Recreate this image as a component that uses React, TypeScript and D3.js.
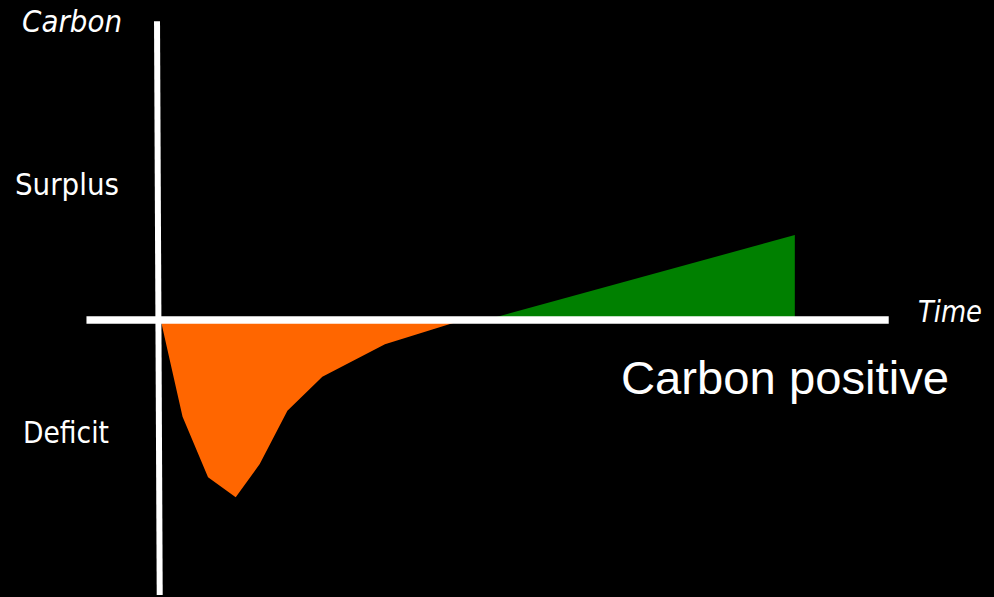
import React from 'react';
import * as d3 from 'd3';

// deficit phase (time units, carbon balance)
const deficitTime = [0.1, 3.1, 6.6, 10.4, 13.7, 17.5, 22.3, 30.9, 41.6];
const deficitValue = [0, -53.7, -87.4, -98.5, -80, -50.4, -31.5, -13.5, 0];

// surplus phase
const surplusTime = [44.7, 87.2, 87.2];
const surplusValue = [0, 47.2, 0];

const labels = {
  yTitle: 'Carbon',
  xTitle: 'Time',
  surplus: 'Surplus',
  deficit: 'Deficit',
  note: 'Carbon positive',
};

const W = 994;
const H = 597;

const App: React.FC = () => {
  const x = d3.scaleLinear().domain([0, 100]).range([160, 888]);
  const y = d3.scaleLinear().domain([-100, 100]).range([500, 140]);

  const area = d3
    .area<[number, number]>()
    .x(d => x(d[0]))
    .y0(y(0))
    .y1(d => y(d[1]));

  const deficit = deficitTime.map((t, i) => [t, deficitValue[i]] as [number, number]);
  const surplus = surplusTime.map((t, i) => [t, surplusValue[i]] as [number, number]);

  const sans = 'Verdana, "DejaVu Sans", sans-serif';

  return (
    <div style={{ position: 'fixed', left: 0, top: 0, width: W, height: H, background: '#000' }}>
      <svg width={W} height={H} style={{ display: 'block' }}>
        <rect width={W} height={H} fill="#000" />
        <path d={area(deficit) || ''} fill="#FF6600" />
        <path d={area(surplus) || ''} fill="#008000" />

        {/* x axis */}
        <line x1={x(-10.1)} x2={x(100.1)} y1={y(0)} y2={y(0)} stroke="#fff" strokeWidth={7.5} />
        {/* y axis (slightly tilted like the original) */}
        <line x1={x(-0.41)} x2={x(-0.04)} y1={y(166)} y2={y(-152.8)} stroke="#fff" strokeWidth={6} />

        <g fill="#fff" fontFamily={sans} fontSize={30}>
          <text x={22} y={32} fontStyle="italic" textLength={100} lengthAdjust="spacingAndGlyphs">
            {labels.yTitle}
          </text>
          <text x={15} y={195} textLength={104} lengthAdjust="spacingAndGlyphs">
            {labels.surplus}
          </text>
          <text x={23} y={443} textLength={86} lengthAdjust="spacingAndGlyphs">
            {labels.deficit}
          </text>
          <text x={918} y={322} fontStyle="italic" textLength={64} lengthAdjust="spacingAndGlyphs">
            {labels.xTitle}
          </text>
        </g>
        <text
          x={621}
          y={394}
          fill="#fff"
          fontFamily='Arial, "Liberation Sans", sans-serif'
          fontSize={46}
          textLength={328}
          lengthAdjust="spacingAndGlyphs"
        >
          {labels.note}
        </text>
      </svg>
    </div>
  );
};

export default App;
